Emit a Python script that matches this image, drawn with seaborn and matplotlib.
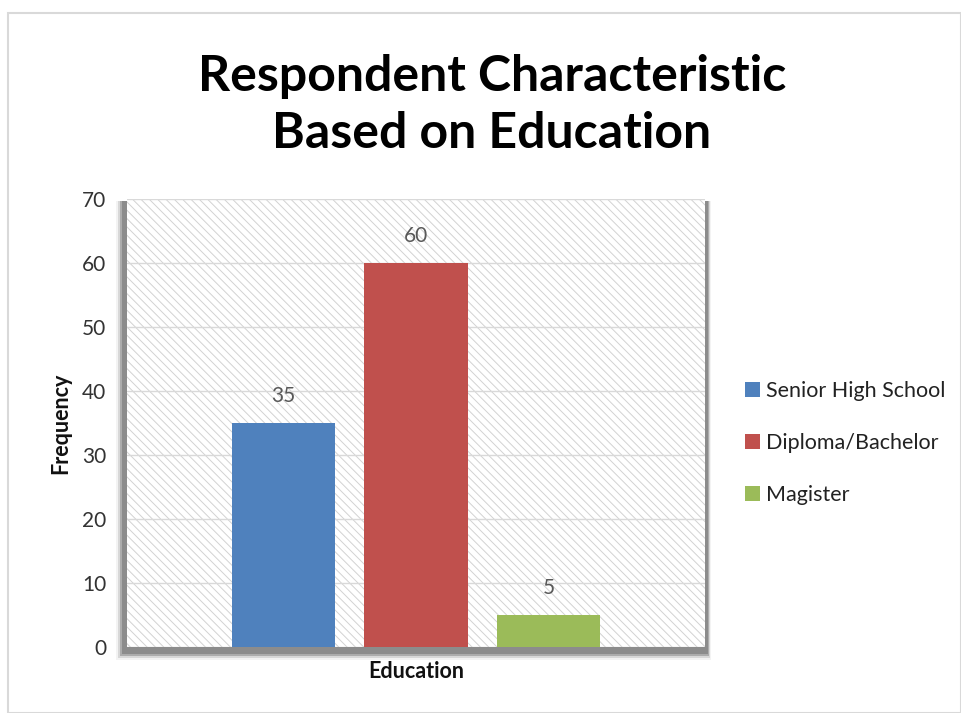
import matplotlib
matplotlib.use("Agg")
import matplotlib.pyplot as plt
import seaborn as sns
import pandas as pd
from matplotlib.patches import Rectangle

categories = ["Senior High School", "Diploma/Bachelor", "Magister"]
values = [35, 60, 5]
colors = ["#4F81BD", "#C0504D", "#9BBB59"]
yticks = [0, 10, 20, 30, 40, 50, 60, 70]
title = "Respondent Characteristic\nBased on Education"
xlabel = "Education"
ylabel = "Frequency"

sns.set_theme(style="white")
plt.rcParams['font.family'] = ['Lato', 'DejaVu Sans']
plt.rcParams['hatch.linewidth'] = 0.7

W, H = 961, 713
fig = plt.figure(figsize=(W / 100, H / 100), dpi=100)

# chart-area border
fig.patches.append(Rectangle((8 / W, 0 / H), (W - 8) / W, (H - 13) / H, transform=fig.transFigure,
                             fill=False, edgecolor="#d9d9d9", linewidth=1.5, zorder=-2))

L, R, T, B = 127, 705, 199, 647
# shadow behind plot area
for i, (a, c) in enumerate([(0.2, "#c4c4c4"), (0.4, "#b0b0b0"), (0.7, "#9a9a9a"), (1.0, "#8c8c8c")]):
    off = 11 - i * 2
    fig.patches.append(Rectangle(((L - off) / W, 1 - (B + off + 2) / H), (R - L + off + 6 - i) / W,
                                 (B - T + off) / H, transform=fig.transFigure,
                                 facecolor=c, edgecolor="none", alpha=a, zorder=-1))

ax = fig.add_axes([L / W, 1 - B / H, (R - L) / W, (B - T) / H])
ax.set_zorder(2)
ax.set_facecolor("white")
ax.add_patch(Rectangle((0, 0), 1, 1, transform=ax.transAxes, facecolor="white",
                       edgecolor="#d2d2d2", hatch="\\\\\\\\", linewidth=0, zorder=0))

df = pd.DataFrame({"x": [xlabel] * 3, "Category": categories, "Frequency": values})
sns.barplot(data=df, x="x", y="Frequency", hue="Category", hue_order=categories,
            palette=colors, width=0.688, gap=0.22, ax=ax, legend=False,
            saturation=1, zorder=3, edgecolor="none")

for cont in ax.containers:
    ax.bar_label(cont, padding=12, fontsize=15, color="#595959")

ax.set_xlim(-0.5, 0.5)
ax.set_ylim(0, 70)
ax.set_yticks(yticks)
ax.set_yticklabels([str(t) for t in yticks], fontsize=15, color="#333333")
ax.tick_params(axis="y", length=0, pad=15)
ax.set_xticks([])
ax.yaxis.grid(True, color="#d9d9d9", linewidth=1, zorder=1)
ax.set_axisbelow(True)
for s in ax.spines.values():
    s.set_visible(False)

ax.set_xlabel(xlabel, fontsize=15.5, fontweight="bold", color="#111111", labelpad=10)
ax.set_ylabel(ylabel, fontsize=15.5, fontweight="bold", color="#111111", labelpad=8)

fig.text(492 / W, 1 - 105 / H, title, ha="center", va="center", fontsize=36,
         fontweight="bold", linespacing=1.35, color="#000000")

handles = [Rectangle((0, 0), 1, 1, facecolor=c, edgecolor="none") for c in colors]
fig.legend(handles, categories, loc="center left", bbox_to_anchor=(726 / W, 1 - 443 / H),
           frameon=False, fontsize=15.5, handlelength=0.7, handleheight=0.7,
           handletextpad=0.25, labelspacing=1.5, labelcolor="#222222")

fig.savefig("out.png", dpi=100)
